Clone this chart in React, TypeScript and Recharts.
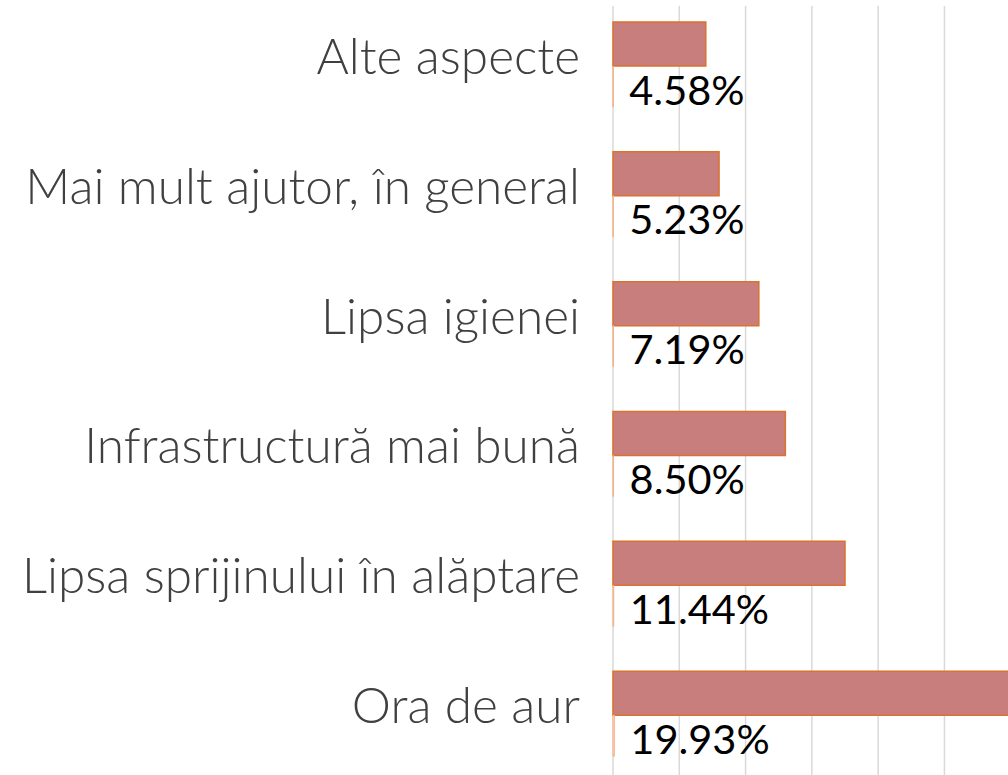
import React from "react";
import { BarChart, Bar, XAxis, YAxis, CartesianGrid, LabelList } from "recharts";

const categories = [
  "Alte aspecte",
  "Mai mult ajutor, în general",
  "Lipsa igienei",
  "Infrastructură mai bună",
  "Lipsa sprijinului în alăptare",
  "Ora de aur",
];
const counts = [14, 16, 22, 26, 35, 61];
const shares = [0.0458, 0.0523, 0.0719, 0.085, 0.1144, 0.1993];
const xTicks = [0, 10, 20, 30, 40, 50, 60, 70];

const data = categories.map((name, i) => ({ name, count: counts[i], share: shares[i] }));

const CategoryTick = (props: any) => {
  const { x, y, payload } = props;
  return (
    <text
      x={x}
      y={y + 9}
      textAnchor="end"
      fill="#404040"
      fontFamily="Lato"
      fontWeight={300}
      fontSize={49.5}
    >
      {payload.value}
    </text>
  );
};

const ShareLabel = (props: any) => {
  const { x, y, width, height, value } = props;
  return (
    <text
      x={x + width + 16}
      y={y + height / 2 + 18}
      textAnchor="start"
      fill="#000000"
      fontFamily="Lato"
      fontSize={41.5}
    >
      {(value * 100).toFixed(2) + "%"}
    </text>
  );
};

export default function App() {
  return (
    <div style={{ position: "absolute", left: 0, top: 0, width: 1008, height: 775, overflow: "hidden", background: "#fff" }}>
      <BarChart
        width={1077}
        height={779}
        data={data}
        layout="vertical"
        margin={{ top: 6, right: 0, left: 0, bottom: 0 }}
        barGap={0}
      >
        <CartesianGrid horizontal={false} stroke="#D9D9D9" strokeWidth={1.5} />
        <XAxis type="number" domain={[0, 70]} ticks={xTicks} hide />
        <YAxis
          type="category"
          dataKey="name"
          width={613}
          axisLine={false}
          tickLine={false}
          tickSize={0}
          tickMargin={33}
          padding={{ top: -6, bottom: 0 }}
          tick={<CategoryTick />}
          interval={0}
        />
        <Bar dataKey="count" barSize={44} fill="#C97E7E" stroke="#D9722E" strokeWidth={1.5} isAnimationActive={false} />
        <Bar dataKey="share" barSize={41} fill="#FBE5D6" stroke="#F4B183" strokeWidth={1} isAnimationActive={false}>
          <LabelList dataKey="share" content={<ShareLabel />} />
        </Bar>
      </BarChart>
    </div>
  );
}
